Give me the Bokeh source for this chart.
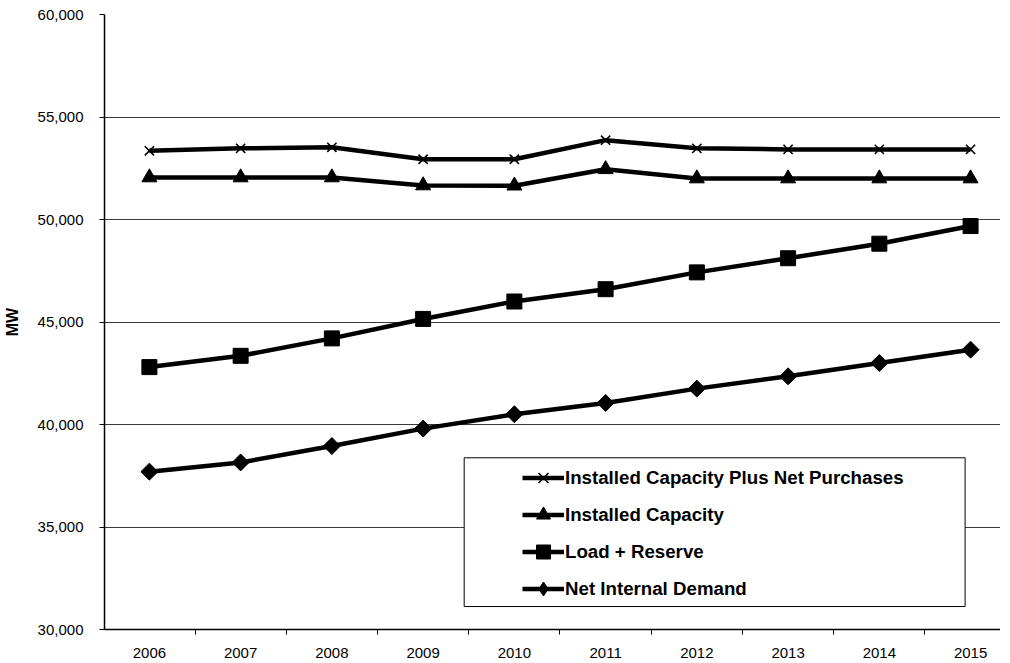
import math
from bokeh.plotting import figure
from bokeh.models import (Range1d, FixedTicker, NumeralTickFormatter, Legend,
                          LegendItem, Grid, BoxAnnotation)
from bokeh.embed import file_html
from bokeh.resources import INLINE

years = [2006, 2007, 2008, 2009, 2010, 2011, 2012, 2013, 2014, 2015]
cap_plus_purchases = [53350, 53470, 53520, 52940, 52940, 53870, 53470, 53420, 53420, 53420]
installed_capacity = [52050, 52050, 52050, 51660, 51650, 52450, 52000, 52000, 52000, 52000]
load_plus_reserve = [42800, 43350, 44200, 45150, 46000, 46600, 47420, 48110, 48820, 49680]
net_internal_demand = [37700, 38150, 38950, 39800, 40500, 41050, 41750, 42350, 43000, 43650]
series_names = ["Installed Capacity Plus Net Purchases", "Installed Capacity",
                "Load + Reserve", "Net Internal Demand"]
y_ticks = [30000, 35000, 40000, 45000, 50000, 55000, 60000]
y_label = "MW"

FONT = "Liberation Sans"

p = figure(width=1000, height=660, output_backend="svg", toolbar_location=None,
           x_range=Range1d(2005.508, 2015.328), y_range=Range1d(30000, 60000),
           min_border_left=103, min_border_right=0, min_border_top=14,
           min_border_bottom=0)
p.outline_line_color = None
p.background_fill_color = "white"

# grid
p.xgrid.visible = False
p.ygrid.ticker = FixedTicker(ticks=y_ticks[1:-1])
p.ygrid.grid_line_color = "#3a3a3a"
p.ygrid.grid_line_width = 1
top_grid = Grid(dimension=1, ticker=FixedTicker(ticks=[y_ticks[-1]]),
                grid_line_color="#555555", grid_line_dash="2 2", grid_line_width=1)
p.add_layout(top_grid)

# y axis
p.yaxis.ticker = FixedTicker(ticks=y_ticks)
p.yaxis.formatter = NumeralTickFormatter(format="0,0")
p.yaxis.axis_label = y_label
p.yaxis.axis_label_text_font = FONT
p.yaxis.axis_label_text_font_style = "bold"
p.yaxis.axis_label_text_font_size = "16px"
p.yaxis.axis_label_text_color = "black"
p.yaxis.axis_label_standoff = 14
p.yaxis.major_label_text_font = FONT
p.yaxis.major_label_text_font_size = "15px"
p.yaxis.major_label_text_color = "black"
p.yaxis.major_label_standoff = 16
p.yaxis.major_tick_out = 5
p.yaxis.major_tick_in = 0
p.yaxis.minor_tick_line_color = None
p.yaxis.axis_line_color = "black"
p.yaxis.axis_line_width = 1.5
p.yaxis.major_tick_line_color = "black"

# x axis
p.xaxis.ticker = FixedTicker(ticks=years, minor_ticks=[y - 0.5 for y in years] + [years[-1] + 0.5])
p.xaxis.major_label_overrides = {y: str(y) for y in years}
p.xaxis.major_label_text_font = FONT
p.xaxis.major_label_text_font_size = "15px"
p.xaxis.major_label_text_color = "black"
p.xaxis.major_tick_line_color = None
p.xaxis.major_tick_out = 5
p.xaxis.major_tick_in = 0
p.xaxis.minor_tick_out = 5
p.xaxis.minor_tick_in = 0
p.xaxis.minor_tick_line_color = "black"
p.xaxis.major_label_standoff = 13
p.xaxis.axis_line_color = "black"
p.xaxis.axis_line_width = 1.5

LW = 4.5
l1 = p.line(years, cap_plus_purchases, line_color="black", line_width=LW)
m1 = p.scatter(years, cap_plus_purchases, marker="x", size=13, line_color="black", line_width=1.6)
l2 = p.line(years, installed_capacity, line_color="black", line_width=LW)
m2 = p.scatter(years, installed_capacity, marker="triangle", size=15, color="black")
l3 = p.line(years, load_plus_reserve, line_color="black", line_width=LW)
m3 = p.scatter(years, load_plus_reserve, marker="square", size=15, color="black")
l4 = p.line(years, net_internal_demand, line_color="black", line_width=LW)
m4 = p.scatter(years, net_internal_demand, marker="square", size=12, angle=math.pi / 4, color="black")
# legend key for the diamond (legend glyphs are drawn unrotated); nothing drawn in the plot
m4_key = p.scatter([years[0]], [float("nan")], marker="diamond", size=12, color="black")

# legend frame
box = BoxAnnotation(left=2009.45, right=2014.94, bottom=31120, top=38376,
                    fill_color="white", fill_alpha=1.0, line_color="black", line_width=1,
                    line_alpha=1.0)
p.add_layout(box)

legend = Legend(items=[
    LegendItem(label=series_names[0], renderers=[l1, m1]),
    LegendItem(label=series_names[1], renderers=[l2, m2]),
    LegendItem(label=series_names[2], renderers=[l3, m3]),
    LegendItem(label=series_names[3], renderers=[l4, m4_key]),
], location=(418, 23))
legend.background_fill_alpha = 0
legend.border_line_color = None
legend.padding = 0
legend.margin = 0
legend.spacing = 2
legend.glyph_width = 42
legend.glyph_height = 35
legend.label_height = 20
legend.label_standoff = 1
legend.label_text_font = FONT
legend.label_text_font_style = "bold"
legend.label_text_font_size = "18.7px"
legend.label_text_color = "black"
p.add_layout(legend, "center")

open("out.html", "w").write(file_html(p, INLINE))
